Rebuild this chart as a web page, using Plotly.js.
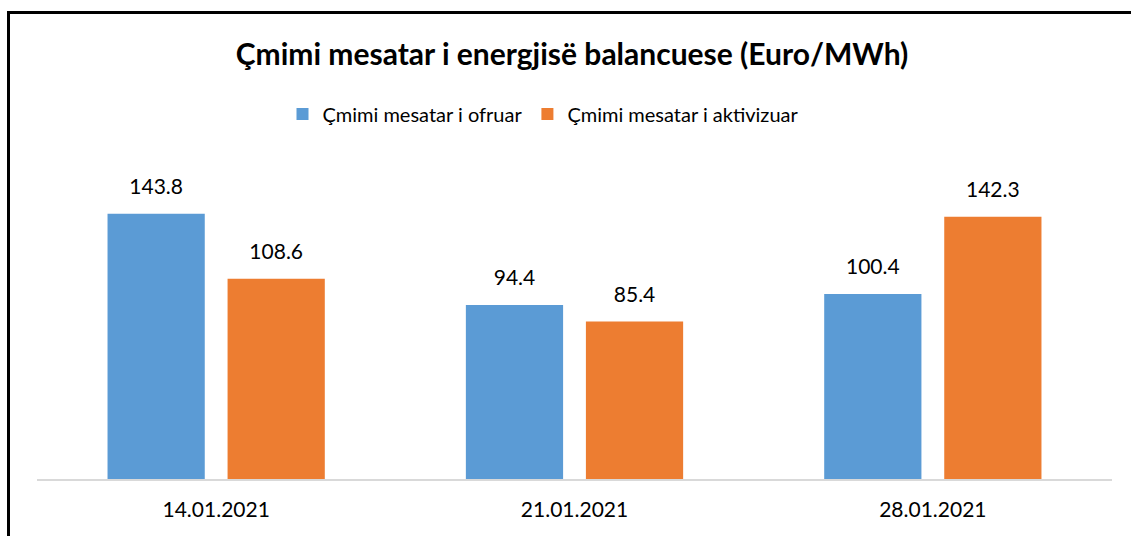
<!DOCTYPE html>
<html>
<head>
<meta charset="utf-8">
<script src="https://cdn.plot.ly/plotly-3.0.1.min.js"></script>
<style>
  html, body { margin: 0; padding: 0; background: #ffffff; }
  #frame { position: absolute; left: 7px; top: 11px; width: 1200px; height: 600px;
           border-left: 3px solid #000; border-top: 3px solid #000; box-sizing: border-box; }
  #chart { position: absolute; left: 0; top: 0; width: 1131px; height: 536px; }
</style>
</head>
<body>
<div id="frame"></div>
<div id="chart"></div>
<script>
const categories = ['14.01.2021', '21.01.2021', '28.01.2021'];
const seriesNames = ['Çmimi mesatar i ofruar', 'Çmimi mesatar i aktivizuar'];
const offeredValues = [143.8, 94.4, 100.4];
const activatedValues = [108.6, 85.4, 142.3];
const chartTitle = 'Çmimi mesatar i energjisë balancuese (Euro/MWh)';

const FONT = 'Lato, "Open Sans", sans-serif';
const blue = '#5B9BD5';
const orange = '#ED7D31';
const GAP = 0.33;

function barTrace(name, values, color, group) {
  return {
    type: 'bar', name: name, x: categories, y: values,
    offsetgroup: group, alignmentgroup: 'a',
    marker: { color: color, line: { width: 0 } },
    hoverinfo: 'skip'
  };
}
function labelTrace(values, group) {
  return {
    type: 'scatter', mode: 'markers+text', x: categories, y: values,
    offsetgroup: group, alignmentgroup: 'a',
    text: values.map(v => v.toFixed(1)), textposition: 'top center',
    textfont: { family: FONT, size: 21, color: '#000' },
    marker: { size: 22, color: 'rgba(0,0,0,0)' },
    showlegend: false, hoverinfo: 'skip', cliponaxis: false
  };
}

const data = [
  barTrace(seriesNames[0], offeredValues, blue, 'g1'),
  barTrace(seriesNames[1], activatedValues, orange, 'g2'),
  labelTrace(offeredValues, 'g1'),
  labelTrace(activatedValues, 'g2')
];

const layout = {
  width: 1131, height: 536,
  paper_bgcolor: 'rgba(0,0,0,0)', plot_bgcolor: 'rgba(0,0,0,0)',
  margin: { l: 37, r: 19, t: 184, b: 57, pad: 0 },
  barmode: 'group', bargap: GAP, bargroupgap: 0.19,
  scattermode: 'group', scattergap: GAP,
  title: {
    text: '<b>' + chartTitle + '</b>',
    font: { family: FONT, size: 30, color: '#000' },
    x: 572 / 1131, xref: 'container', xanchor: 'center',
    y: 1 - 54 / 536, yref: 'container', yanchor: 'middle'
  },
  legend: {
    orientation: 'h', xref: 'container', yref: 'container',
    x: 543 / 1131, xanchor: 'center', y: 1 - 114 / 536, yanchor: 'middle',
    font: { family: FONT, size: 20, color: '#000' },
    traceorder: 'normal', itemclick: false
  },
  xaxis: {
    type: 'category', showline: true, linecolor: '#d9d9d9', linewidth: 2,
    showgrid: false, zeroline: false, ticks: '', ticklabelstandoff: 11,
    tickfont: { family: FONT, size: 21, color: '#000' }, fixedrange: true
  },
  yaxis: {
    range: [0, 160], visible: false, showgrid: false, zeroline: false, fixedrange: true
  },
  showlegend: true
};

Plotly.newPlot('chart', data, layout, { displayModeBar: false, staticPlot: true });
</script>
</body>
</html>
